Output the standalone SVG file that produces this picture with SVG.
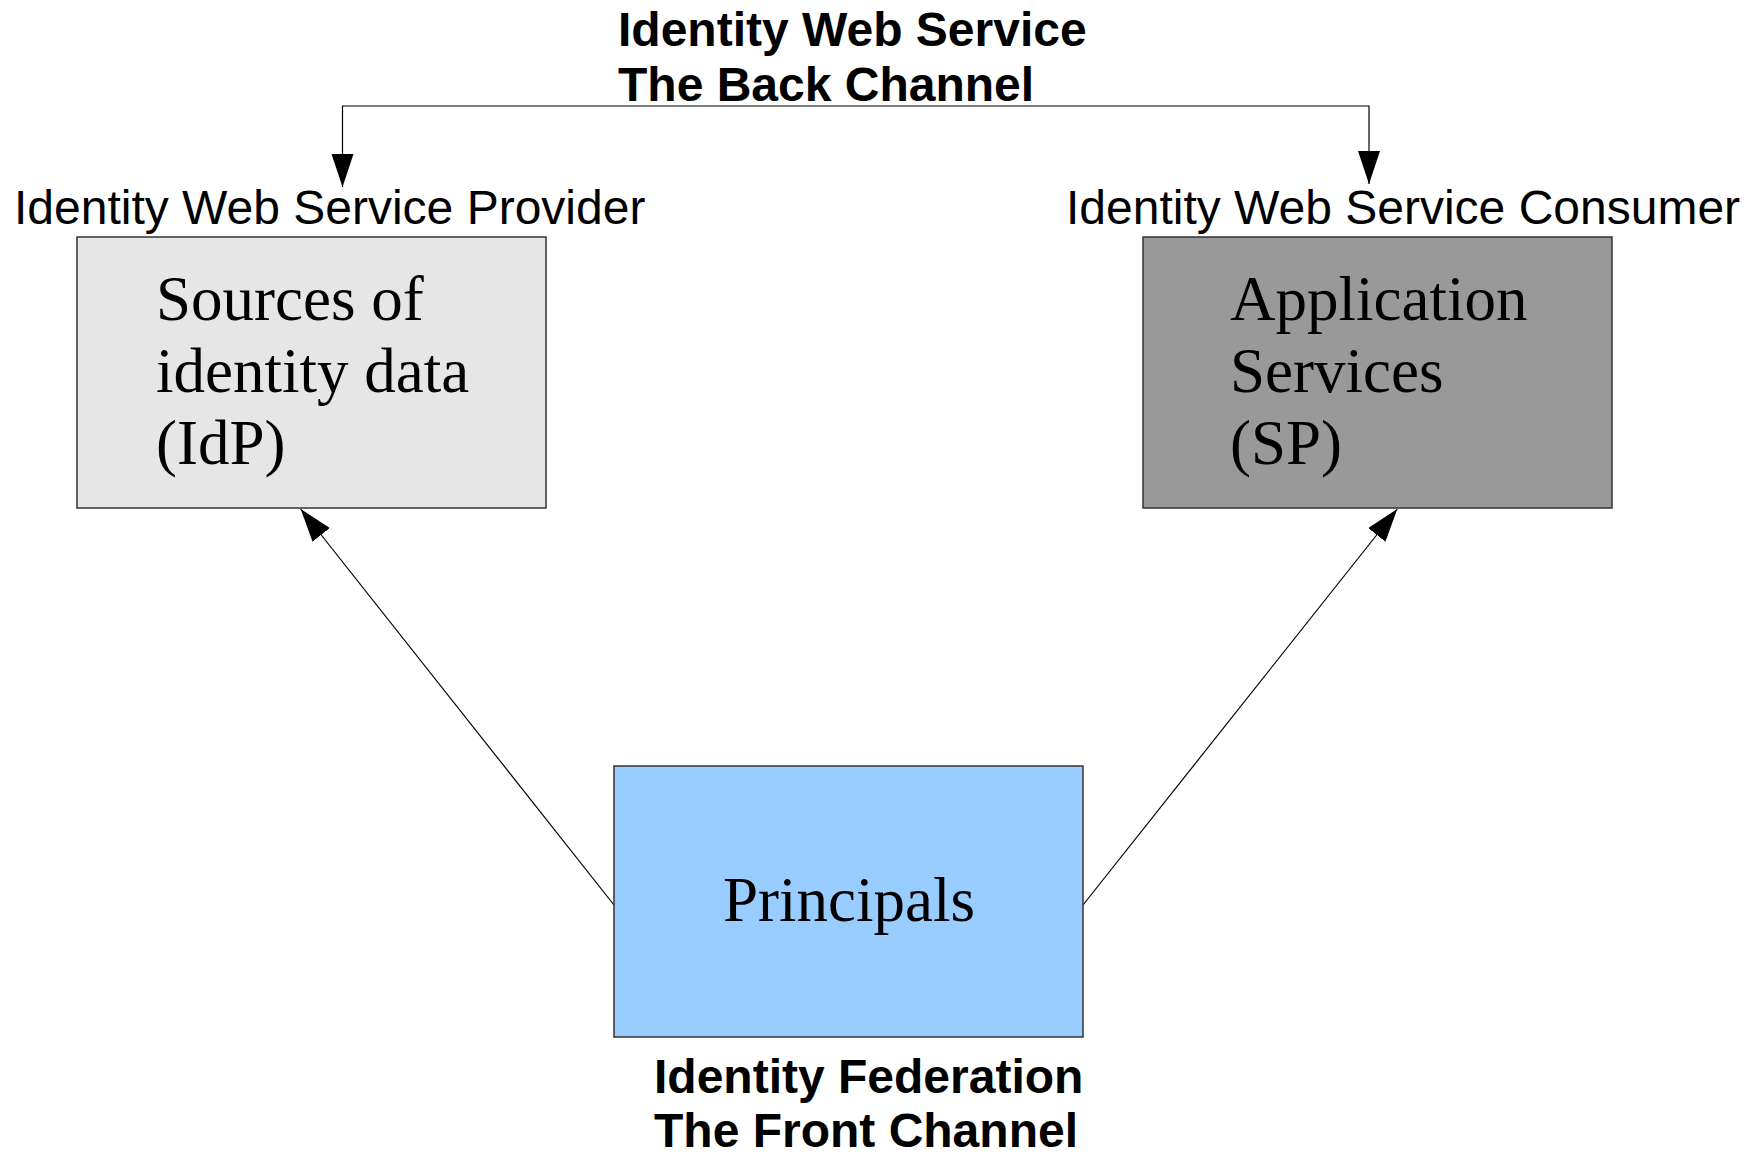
<svg xmlns="http://www.w3.org/2000/svg" width="1756" height="1154" viewBox="0 0 1756 1154">
  <style>
    .box { stroke: #333333; stroke-width: 1.5; }
    .idp { fill: #e6e6e6; }
    .sp { fill: #999999; }
    .pr { fill: #99ccff; }
    .serif { font-family: "Liberation Serif", "Times New Roman", serif; font-size: 63px; fill: #000000; }
    .label { font-family: "Liberation Sans", Arial, sans-serif; font-size: 48px; fill: #000000; }
    .head { font-family: "Liberation Sans", Arial, sans-serif; font-size: 48px; font-weight: bold; fill: #000000; }
    .conn { fill: none; stroke: #000000; stroke-width: 1.2; }
  </style>
  <defs>
    <marker id="arrow" markerUnits="userSpaceOnUse" markerWidth="34" markerHeight="23" refX="33" refY="11" orient="auto-start-reverse">
      <path d="M0,0 L33,11 L0,22 Z" fill="#000000"/>
    </marker>
  </defs>
  <rect width="1756" height="1154" fill="#ffffff"/>

  <!-- back channel heading -->
  <g id="back-channel-label">
    <text class="head" x="618" y="46">Identity Web Service</text>
    <text class="head" x="618" y="101">The Back Channel</text>
  </g>

  <!-- connectors -->
  <g id="connectors">
    <polyline class="conn" points="342.5,187 342.5,106 1369,106 1369,184" marker-start="url(#arrow)" marker-end="url(#arrow)"/>
    <line class="conn" x1="614" y1="905" x2="300.7" y2="509" marker-end="url(#arrow)"/>
    <line class="conn" x1="1083" y1="905" x2="1397.3" y2="509" marker-end="url(#arrow)"/>
  </g>

  <g id="idp">
    <text class="label" x="14" y="224">Identity Web Service Provider</text>
    <rect class="box idp" x="77" y="237" width="469" height="271"/>
    <text class="serif" x="156" y="320">Sources of</text>
    <text class="serif" x="156" y="392">identity data</text>
    <text class="serif" x="156" y="464">(IdP)</text>
  </g>

  <g id="sp">
    <text class="label" x="1066" y="224">Identity Web Service Consumer</text>
    <rect class="box sp" x="1143" y="237" width="469" height="271"/>
    <text class="serif" x="1230" y="320">Application</text>
    <text class="serif" x="1230" y="392">Services</text>
    <text class="serif" x="1230" y="464">(SP)</text>
  </g>

  <g id="principals">
    <rect class="box pr" x="614" y="766" width="469" height="271"/>
    <text class="serif" x="849" y="921" text-anchor="middle">Principals</text>
  </g>

  <!-- front channel heading -->
  <g id="front-channel-label">
    <text class="head" x="654" y="1093">Identity Federation</text>
    <text class="head" x="654" y="1147">The Front Channel</text>
  </g>
</svg>
